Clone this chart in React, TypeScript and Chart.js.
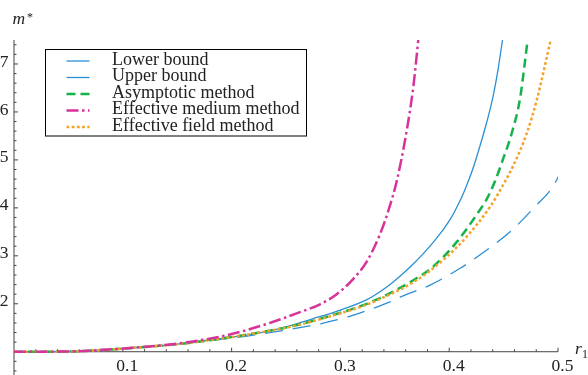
import React, { useEffect, useRef } from "react";
import { Chart, registerables } from "chart.js";

Chart.register(...registerables);

// ---- data ----
const lowerR = [0, 0.05, 0.08, 0.11, 0.15, 0.183, 0.214, 0.245, 0.275, 0.3, 0.324, 0.3364, 0.3456, 0.356, 0.366, 0.376, 0.386, 0.395, 0.402, 0.408, 0.413, 0.418, 0.423, 0.428, 0.433, 0.4375, 0.441, 0.445, 0.449];
const lowerM = [1, 1.005, 1.035, 1.083, 1.16, 1.255, 1.345, 1.485, 1.69, 1.87, 2.08, 2.25, 2.4, 2.6, 2.81, 3.04, 3.3, 3.56, 3.8, 4.06, 4.3, 4.58, 4.9, 5.27, 5.66, 6.05, 6.4, 6.9, 7.5];

const upperR = [0, 0.05, 0.08, 0.11, 0.15, 0.183, 0.214, 0.245, 0.269, 0.287, 0.306, 0.327, 0.3456, 0.3548, 0.3824, 0.41, 0.4345, 0.456, 0.4773, 0.4988, 0.5];
const upperM = [1, 1.005, 1.035, 1.08, 1.155, 1.24, 1.325, 1.435, 1.53, 1.61, 1.72, 1.88, 2.04, 2.14, 2.39, 2.74, 3.12, 3.5, 3.99, 4.58, 4.65];

const asymR = [0, 0.05, 0.08, 0.11, 0.15, 0.1985, 0.229, 0.26, 0.29, 0.321, 0.3364, 0.3456, 0.367, 0.385, 0.407, 0.428, 0.434, 0.442, 0.4497, 0.4574, 0.4651, 0.4721];
const asymM = [1, 1.005, 1.035, 1.082, 1.158, 1.3, 1.415, 1.556, 1.744, 1.973, 2.12, 2.22, 2.49, 2.77, 3.29, 3.95, 4.16, 4.55, 5.03, 5.55, 6.28, 7.5];

const mediumR = [0, 0.05, 0.08, 0.11, 0.1526, 0.168, 0.1924, 0.2139, 0.2383, 0.2598, 0.2813, 0.2966, 0.3119, 0.3242, 0.3364, 0.3456, 0.3517, 0.3594, 0.367, 0.3716];
const mediumM = [1, 1.005, 1.035, 1.085, 1.175, 1.229, 1.327, 1.452, 1.625, 1.8, 1.99, 2.2, 2.52, 2.88, 3.45, 4.05, 4.55, 5.41, 6.52, 7.5];

const fieldR = [0, 0.05, 0.08, 0.11, 0.15, 0.1985, 0.229, 0.26, 0.29, 0.321, 0.3364, 0.37, 0.3977, 0.4161, 0.4375, 0.4513, 0.4589, 0.4712, 0.4804, 0.4933];
const fieldM = [1, 1.005, 1.035, 1.082, 1.158, 1.3, 1.413, 1.55, 1.735, 1.955, 2.1, 2.49, 2.98, 3.4, 4.02, 4.55, 4.88, 5.55, 6.24, 7.5];

const seriesLabels = ["Lower bound", "Upper bound", "Asymptotic method", "Effective medium method", "Effective field method"];
const xMajorTicks = [0.1, 0.2, 0.3, 0.4, 0.5];
const xTickLabels = ["0.1", "0.2", "0.3", "0.4", "0.5"];
const yMajorTicks = [2, 3, 4, 5, 6, 7];
const yTickLabels = ["2", "3", "4", "5", "6", "7"];

const BLUE = "#2b8fd3";
const GREEN = "#14b24a";
const MAGENTA = "#d8339b";
const ORANGE = "#f3a32a";
const FONT = "'Liberation Serif', 'Times New Roman', serif";

const pts = (xs: number[], ys: number[]) => xs.map((x, i) => ({ x, y: ys[i] }));

const axesPlugin = {
  id: "mmaAxes",
  beforeDatasetsDraw(chart: any) {
    const { ctx, scales, chartArea } = chart;
    const xs = scales.x;
    const ys = scales.y;
    const x0 = xs.getPixelForValue(0);
    const y1 = ys.getPixelForValue(1);
    ctx.save();
    ctx.strokeStyle = "#444";
    ctx.lineWidth = 1;
    ctx.beginPath();
    ctx.moveTo(x0, chartArea.top);
    ctx.lineTo(x0, chartArea.bottom);
    ctx.moveTo(x0, y1);
    ctx.lineTo(xs.getPixelForValue(0.5), y1);
    ctx.stroke();
    ctx.beginPath();
    for (let i = 1; i <= 25; i++) {
      const px = xs.getPixelForValue(i * 0.02);
      const len = i % 5 === 0 ? 4 : 2.5;
      ctx.moveTo(px, y1);
      ctx.lineTo(px, y1 - len);
    }
    for (let i = 3; i <= 37; i++) {
      const v = i * 0.2;
      if (v > 7.45) break;
      const py = ys.getPixelForValue(v);
      const len = i % 5 === 0 ? 4 : 2.5;
      ctx.moveTo(x0, py);
      ctx.lineTo(x0 + len, py);
    }
    ctx.stroke();
    ctx.fillStyle = "#222";
    ctx.font = `17.5px ${FONT}`;
    ctx.textAlign = "center";
    ctx.textBaseline = "middle";
    xMajorTicks.forEach((v, i) => {
      ctx.fillText(xTickLabels[i], xs.getPixelForValue(v) + 4.5, y1 + 15);
    });
    ctx.textAlign = "right";
    yMajorTicks.forEach((v, i) => {
      ctx.fillText(yTickLabels[i], 8.5, ys.getPixelForValue(v) - 2);
    });
    ctx.textAlign = "left";
    ctx.textBaseline = "alphabetic";
    ctx.font = `italic 17.5px ${FONT}`;
    ctx.fillText("m", 12.5, 23.5);
    ctx.font = `12px ${FONT}`;
    ctx.fillText("*", 27, 21);
    ctx.font = `italic 17.5px ${FONT}`;
    ctx.fillText("r", 575, 354);
    ctx.font = `12px ${FONT}`;
    ctx.fillText("1", 582, 358);
    ctx.restore();
  },
  afterDraw(chart: any) {
    const { ctx } = chart;
    const ds = chart.data.datasets;
    ctx.save();
    ctx.fillStyle = "#fff";
    ctx.strokeStyle = "#000";
    ctx.lineWidth = 1;
    ctx.fillRect(45.5, 49.5, 261, 86.5);
    ctx.strokeRect(45.5, 49.5, 261, 86.5);
    seriesLabels.forEach((lab, i) => {
      const y = 61 + i * 16.5;
      const d = ds[i];
      ctx.beginPath();
      ctx.strokeStyle = d.borderColor;
      ctx.lineWidth = d.borderWidth;
      ctx.setLineDash(i === 1 ? [] : d.borderDash || []);
      ctx.moveTo(66.5, y);
      ctx.lineTo(89.5, y);
      ctx.stroke();
      ctx.setLineDash([]);
      ctx.fillStyle = "#222";
      ctx.font = `18px ${FONT}`;
      ctx.textAlign = "left";
      ctx.textBaseline = "alphabetic";
      ctx.fillText(lab, 112, y + 3.5);
    });
    ctx.restore();
  },
};

export default function App() {
  const ref = useRef<HTMLCanvasElement | null>(null);
  useEffect(() => {
    if (!ref.current) return;
    const common = { pointRadius: 0, fill: false, cubicInterpolationMode: "monotone" as const };
    const chart = new Chart(ref.current, {
      type: "line",
      data: {
        datasets: [
          { ...common, label: seriesLabels[0], data: pts(lowerR, lowerM), borderColor: BLUE, borderWidth: 1.3, order: 5 },
          { ...common, label: seriesLabels[1], data: pts(upperR, upperM), borderColor: BLUE, borderWidth: 1.3, borderDash: [18, 10], order: 4 },
          { ...common, label: seriesLabels[2], data: pts(asymR, asymM), borderColor: GREEN, borderWidth: 2.5, borderDash: [9, 5], order: 3 },
          { ...common, label: seriesLabels[3], data: pts(mediumR, mediumM), borderColor: MAGENTA, borderWidth: 2.5, borderDash: [12, 3.5, 2.5, 3.5], order: 1 },
          { ...common, label: seriesLabels[4], data: pts(fieldR, fieldM), borderColor: ORANGE, borderWidth: 2.5, borderDash: [2.8, 2.4], order: 2 },
        ],
      },
      options: {
        responsive: false,
        animation: false,
        layout: { padding: { left: 14, right: 30, top: 40, bottom: 0 } },
        scales: {
          x: { type: "linear", min: 0, max: 0.5, display: false },
          y: { type: "linear", min: 0.515, max: 7.5, display: false },
        },
        plugins: { legend: { display: false }, tooltip: { enabled: false } },
      },
      plugins: [axesPlugin],
    });
    return () => chart.destroy();
  }, []);
  return (
    <div style={{ position: "fixed", left: 0, top: 0, width: 588, height: 375, background: "#fff" }}>
      <canvas ref={ref} width={588} height={375} />
    </div>
  );
}
